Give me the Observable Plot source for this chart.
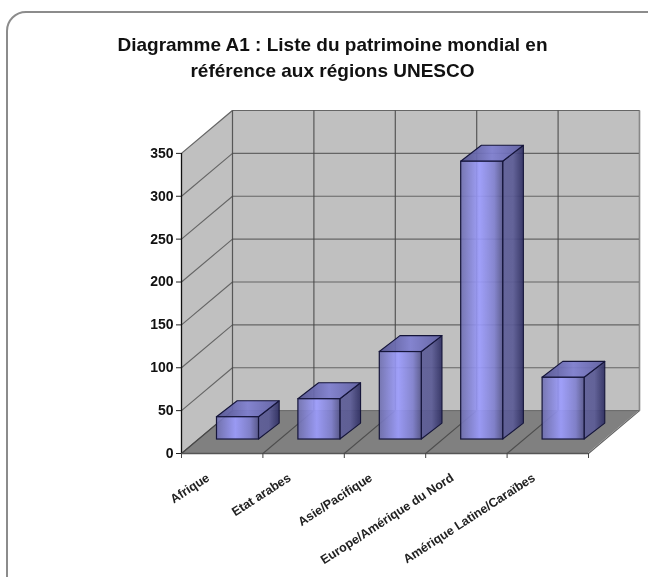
<!DOCTYPE html>
<html lang="fr">
<head>
<meta charset="utf-8">
<script src="https://cdn.jsdelivr.net/npm/d3@7"></script>
<script src="https://cdn.jsdelivr.net/npm/@observablehq/plot@0.6"></script>
<style>
html,body{margin:0;padding:0;background:#fff;width:648px;height:577px;overflow:hidden;position:relative}
#card{position:absolute;left:6px;top:11px;width:670px;height:590px;border:2px solid #8c8c8c;border-radius:20px;box-sizing:border-box;pointer-events:none;filter:blur(.5px)}
#title{position:relative;height:100px;box-sizing:border-box;padding-top:32px;width:665px;text-align:center;font:bold 19px/26px "Liberation Sans",Arial,sans-serif;color:#111;filter:blur(.4px)}
#chart svg{display:block;filter:blur(.45px)}
</style>
</head>
<body>
<div id="card"></div>
<div id="title">Diagramme A1 : Liste du patrimoine mondial en<br>référence aux régions UNESCO</div>
<div id="chart"></div>
<script>
const categories = ["Afrique", "Etat arabes", "Asie/Pacifique", "Europe/Amérique du Nord", "Amérique Latine/Caraïbes"];
const values = [26, 47, 102, 324, 72];
const yTicks = [0, 50, 100, 150, 200, 250, 300, 350];

// oblique projection of the depth axis, in scale units
const depthX = 0.6265, depthY = 50;
const barLeft = 0.436, barWidth = 0.516, barBase = 16.3, barDepthX = 0.254, barDepthY = 18.6;
const n = categories.length;
const xSteps = d3.range(n + 1);

const seg = (x1, y1, x2, y2) => ({x1, y1, x2, y2});
const face = (p0, p1) => [
  {x1: p0[0], y1: p0[1], x2: p0[2], y2: p0[3]},
  {x1: p1[0], y1: p1[1], x2: p1[2], y2: p1[3]}
];
const areaOf = (data, o) => Plot.area(data, {x1: "x1", y1: "y1", x2: "x2", y2: "y2", curve: "linear", ...o});
const linkOf = (data, o) => Plot.link(data, {x1: "x1", y1: "y1", x2: "x2", y2: "y2", ...o});

const bars = values.map((v, i) => ({
  name: categories[i], v,
  l: i + barLeft, r: i + barLeft + barWidth,
  base: barBase, top: barBase + v
}));

function gradients() {
  const defs = d3.create("svg:defs");
  const make = (id, stops) => {
    const g = defs.append("linearGradient").attr("id", id).attr("x1", 0).attr("x2", 1).attr("y1", 0).attr("y2", 0);
    stops.forEach(([o, c]) => g.append("stop").attr("offset", o).attr("stop-color", c));
  };
  make("gFront", [[0, "#6f6fb0"], [0.45, "#9c9cff"], [0.8, "#8080d0"], [1, "#55558c"]]);
  make("gSide", [[0, "#5e5e98"], [0.5, "#5c5c96"], [1, "#2f2f62"]]);
  make("gTop", [[0, "#52528e"], [0.5, "#7f7fd0"], [1, "#5e5ea0"]]);
  return defs.node();
}

const barStroke = "#15153a";
const plot = Plot.plot({
  width: 648,
  height: 477,
  marginLeft: 181,
  marginRight: 9,
  marginTop: 10,
  marginBottom: 124,
  style: {background: "transparent", overflow: "visible"},
  x: {domain: [0, n + depthX], axis: null},
  y: {domain: [0, 350 + depthY], axis: null},
  marks: [
    gradients,
    // back wall
    Plot.rect([{}], {x1: depthX, x2: n + depthX, y1: depthY, y2: 350 + depthY, fill: "#c0c0c0"}),
    // left wall
    areaOf(face([0, 0, 0, 350], [depthX, depthY, depthX, 350 + depthY]), {fill: "#c0c0c0"}),
    // floor
    areaOf(face([0, 0, n, 0], [depthX, depthY, n + depthX, depthY]), {fill: "#808080"}),
    // grid
    linkOf(yTicks.filter(v => v > 0).map(v => seg(depthX, v + depthY, n + depthX, v + depthY)), {stroke: "#555", strokeWidth: 1.2, strokeOpacity: .85}),
    linkOf(yTicks.map(v => seg(0, v, depthX, v + depthY)), {stroke: "#555", strokeWidth: 1.1, strokeOpacity: .85}),
    linkOf(xSteps.map(i => seg(i + depthX, depthY, i + depthX, 350 + depthY)), {stroke: "#444", strokeWidth: 1.2, strokeOpacity: .85}),
    linkOf(xSteps.map(i => seg(i, 0, i + depthX, depthY)), {stroke: "#444", strokeWidth: 1.1, strokeOpacity: .85}),
    linkOf([seg(depthX, depthY, n + depthX, depthY)], {stroke: "#666", strokeWidth: 1}),
    linkOf([seg(n + depthX, depthY, n + depthX, 350 + depthY)], {stroke: "#888", strokeWidth: 1.4}),
    // bars: side, top, front
    ...bars.flatMap(b => [
      areaOf(face([b.r, b.base, b.r, b.top], [b.r + barDepthX, b.base + barDepthY, b.r + barDepthX, b.top + barDepthY]),
        {fill: "url(#gSide)", fillOpacity: .93, stroke: barStroke, strokeWidth: 1.1}),
      areaOf(face([b.l, b.top, b.r, b.top], [b.l + barDepthX, b.top + barDepthY, b.r + barDepthX, b.top + barDepthY]),
        {fill: "url(#gTop)", fillOpacity: .93, stroke: barStroke, strokeWidth: 1.1}),
      Plot.rect([b], {x1: "l", x2: "r", y1: "base", y2: "top", fill: "url(#gFront)", fillOpacity: .9, stroke: barStroke, strokeWidth: 1.2})
    ]),
    // axes
    Plot.ruleX([0], {y1: 0, y2: 350, stroke: "#111", strokeWidth: 1.3}),
    Plot.ruleY([0], {x1: 0, x2: n, stroke: "#555", strokeWidth: 1.6}),
    Plot.axisY(yTicks, {tickSize: 5, tickPadding: 3, label: null, fontWeight: "bold", fontSize: 14, fontFamily: "Liberation Sans", fill: "#111", stroke: "#222"}),
    Plot.axisX(xSteps, {tickSize: 5, label: null, tickFormat: () => "", stroke: "#444"}),
    Plot.text(categories, {
      x: (d, i) => i + 0.5, y: 0, text: d => d,
      rotate: -33, textAnchor: "end", dx: -14, dy: 23,
      fontFamily: "Liberation Sans", fontWeight: "bold", fontSize: 12.5, fill: "#222"
    })
  ]
});
document.getElementById("chart").append(plot);
</script>
</body>
</html>
